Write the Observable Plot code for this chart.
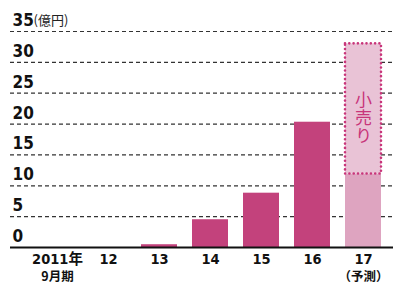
<!DOCTYPE html>
<html><head><meta charset="utf-8">
<script src="https://cdn.jsdelivr.net/npm/d3@7"></script>
<script src="https://cdn.jsdelivr.net/npm/@observablehq/plot@0.6"></script>
<style>
body{margin:0;background:#fff}
svg{font-family:"Liberation Sans Narrow","DejaVu Sans Condensed","Noto Sans CJK JP",sans-serif}
</style>
</head><body><div id="chart"></div>
<script>
const categories = ["2011","12","13","14","15","16","17"];
const labelLine1 = ["2011年","12","13","14","15","16","17"];
const labelLine2 = ["9月期","","","","","","（予測）"];
const actual = [0, 0, 0.45, 4.5, 8.8, 20.3, null];
const forecastBase = [null, null, null, null, null, null, 11.9];
const forecastTotal = [null, null, null, null, null, null, 33.0];
const yTicks = [0, 5, 10, 15, 20, 25, 30, 35];
const unitLabel = "(億円)";
const forecastNote = "小売り";

const rows = categories.map((c, i) => ({
  cat: c, actual: actual[i], base: forecastBase[i], total: forecastTotal[i],
  l1: labelLine1[i], l2: labelLine2[i]
}));
const forecastRows = rows.filter(d => d.base != null);

const chart = Plot.plot({
  width: 400,
  height: 291,
  marginLeft: 10,
  marginRight: 7,
  marginTop: 31,
  marginBottom: 44,
  x: {domain: categories, range: [28.5, 392], paddingInner: 0.287, paddingOuter: 0.1435, axis: null},
  y: {domain: [0, 35], axis: null},
  marks: [
    Plot.ruleY(yTicks.filter(d => d > 0), {stroke: "#333", strokeWidth: 1.2, strokeDasharray: "4,3"}),
    Plot.barY(rows.filter(d => d.actual != null && d.actual > 0), {x: "cat", y: "actual", fill: "#c3427c"}),
    Plot.barY(forecastRows, {x: "cat", y: "base", fill: "#dea4c0"}),
    Plot.barY(forecastRows, {x: "cat", y1: "base", y2: "total", fill: "#e9c3d6", stroke: "#c8357a", strokeWidth: 2.6, strokeDasharray: "0,4.3", strokeLinecap: "round"}),
    Plot.text(forecastRows, {x: "cat", y: d => (d.base + d.total) / 2 - 0.65, text: () => forecastNote, fill: "#c8357a", fontSize: 17, fontFamily: "Noto Sans CJK JP"}),
    Plot.ruleY([0], {stroke: "#111", strokeWidth: 2}),
    Plot.text(yTicks, {y: d => d, text: d => String(d), frameAnchor: "left", textAnchor: "start", dx: 2, dy: -11, fontSize: 17, fontWeight: "bold", fill: "#111"}),
    Plot.text([35], {y: d => d, text: () => unitLabel, frameAnchor: "left", textAnchor: "start", dx: 23, dy: -11, fontSize: 13, fill: "#222", fontFamily: "Noto Sans CJK JP"}),
    Plot.text(rows, {x: "cat", text: "l1", frameAnchor: "bottom", dy: 16, fontSize: 14.5, fontWeight: "bold", fill: "#111"}),
    Plot.text(rows, {x: "cat", text: "l2", frameAnchor: "bottom", dy: 33, fontSize: 12.5, fontWeight: "bold", fill: "#111", fontFamily: "Noto Sans CJK JP"})
  ]
});
d3.select(chart).selectAll("text").filter(function() { return this.textContent === forecastNote; })
  .attr("dy", null)
  .style("writing-mode", "vertical-rl")
  .style("letter-spacing", "1px");
document.getElementById("chart").appendChild(chart);
</script>
</body></html>
